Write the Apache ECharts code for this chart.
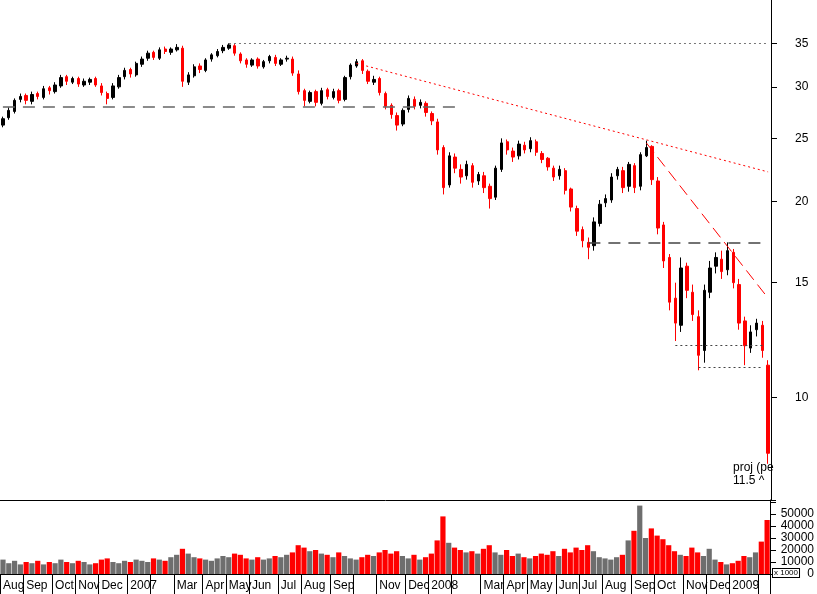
<!DOCTYPE html>
<html><head><meta charset="utf-8">
<script src="https://cdn.jsdelivr.net/npm/echarts@6/dist/echarts.min.js"></script>
<style>html,body{margin:0;padding:0;background:#fff}#c{width:817px;height:594px}</style>
</head><body><div id="c"></div>
<script>
const startDate = '2006-08-04';
const closes = [26.8,27.6,28.6,29.0,28.6,29.2,29.0,29.8,29.6,30.2,31.0,30.6,30.9,30.3,30.6,30.8,30.2,29.4,28.8,30.1,31.0,31.8,31.4,32.6,33.1,33.8,33.3,34.2,34.0,34.3,34.5,30.6,31.3,32.2,31.9,33.0,33.6,34.0,34.5,34.8,33.8,32.9,32.5,33.0,32.3,32.8,33.4,32.6,33.0,33.2,31.5,29.5,28.6,29.4,28.4,29.6,29.0,29.5,28.6,31.0,32.4,32.8,31.8,30.6,30.8,29.4,28.0,27.2,26.2,27.6,28.8,28.0,28.4,27.4,26.6,24.0,21.0,23.5,22.5,21.8,22.8,21.4,22.0,21.0,20.2,22.5,24.6,24.0,23.4,24.5,24.0,24.8,23.8,23.2,22.6,21.8,22.4,20.8,19.6,18.0,17.4,17.0,18.6,19.8,20.2,21.8,22.4,21.0,22.8,21.0,23.6,24.2,21.6,18.2,16.2,14.0,13.0,15.8,14.6,13.4,11.6,14.6,15.8,16.4,15.6,16.8,15.0,13.0,12.0,12.6,13.0,11.8,8.2];
const opens = [26.2,26.9,27.5,28.7,29.1,28.5,29.3,28.9,29.9,29.5,30.1,31.1,30.5,30.9,30.2,30.5,30.9,30.1,29.3,28.9,30.0,31.1,31.9,31.3,32.5,33.2,33.9,33.2,34.3,33.9,34.2,34.4,30.5,31.2,32.3,31.8,33.1,33.5,34.1,34.4,34.7,33.7,33.0,32.4,33.1,32.2,32.9,33.3,32.5,33.1,33.1,31.4,29.6,28.5,29.5,28.3,29.7,28.9,29.6,28.7,31.1,32.3,32.9,31.7,30.5,30.9,29.3,28.1,27.1,26.3,27.7,28.7,28.1,28.3,27.3,26.5,24.2,21.2,23.4,22.4,21.9,22.7,21.5,21.9,21.1,20.3,22.4,24.7,23.9,23.5,24.4,24.1,24.7,23.7,23.3,22.5,21.9,22.3,20.9,19.5,18.1,17.3,17.1,18.5,19.9,20.1,21.9,22.3,21.1,22.7,21.1,23.5,24.3,21.5,18.4,16.4,14.2,12.9,15.9,14.5,13.3,11.8,14.5,15.9,16.3,15.7,16.7,14.9,13.1,11.9,12.7,12.9,11.2];
const lows = [26.0,26.7,27.3,28.4,28.2,28.2,28.7,28.7,29.2,29.3,29.9,30.2,30.3,30.0,30.0,30.2,30.0,29.1,28.2,28.7,29.8,30.8,31.0,31.1,32.2,32.9,33.0,33.0,33.7,33.6,34.0,30.0,30.2,31.0,31.5,31.6,32.8,33.3,33.8,34.2,33.5,32.6,32.1,32.2,32.0,32.0,32.6,32.3,32.3,32.8,31.2,29.2,28.0,28.3,28.0,28.1,28.7,28.7,28.3,28.5,30.8,32.1,31.4,30.3,30.2,29.1,27.7,26.8,25.7,26.1,27.4,27.7,27.8,27.0,26.2,23.6,20.5,21.0,22.1,21.3,21.6,21.0,21.2,20.6,19.5,20.1,22.2,23.6,23.0,23.2,23.7,23.8,23.5,22.9,22.3,21.5,21.6,20.5,19.3,17.7,17.0,16.3,16.8,18.3,19.6,19.9,21.6,20.6,20.7,20.6,20.8,23.4,21.2,17.8,15.8,13.6,12.2,12.6,14.2,13.1,11.0,11.3,14.2,15.5,15.2,15.4,14.7,12.7,11.2,11.7,12.4,11.5,7.9];
const highs = [27.0,27.9,28.8,29.3,29.3,29.5,29.5,30.1,30.1,30.5,31.3,31.3,31.1,31.1,30.9,31.0,31.1,30.4,29.5,30.4,31.3,32.1,32.1,32.8,33.4,34.1,34.1,34.5,34.6,34.5,34.9,34.7,31.6,32.5,32.6,33.2,33.8,34.3,34.8,35.0,34.9,33.9,33.2,33.2,33.3,33.0,33.6,33.6,33.2,33.5,33.4,31.8,29.8,29.6,29.7,29.9,29.9,29.8,29.8,31.2,32.6,33.1,33.1,31.9,31.2,31.1,29.5,28.3,27.4,27.8,29.1,29.0,28.7,28.5,27.5,26.8,24.4,23.8,23.7,22.8,23.1,22.9,22.2,22.2,21.3,22.7,25.0,24.9,24.2,24.8,24.7,25.1,24.9,23.9,23.4,22.7,22.7,22.5,21.0,19.7,18.3,17.6,18.9,20.1,20.5,22.1,22.6,22.6,23.0,22.9,23.8,24.8,24.4,21.8,18.6,16.6,15.0,16.4,16.1,14.9,13.6,14.9,16.2,16.7,16.8,17.3,16.9,15.2,13.3,12.9,13.2,13.1,11.4];
const volumes = [12000,9000,11000,8000,10000,9000,11000,8000,10000,9000,12000,10000,9000,11000,10000,8000,9000,12000,13000,10000,9000,11000,10000,12000,11000,10000,13000,12000,11000,14000,16000,21000,17000,14000,13000,12000,11000,13000,15000,14000,17000,16000,13000,12000,14000,12000,13000,15000,14000,16000,18000,24000,22000,19000,20000,17000,16000,14000,18000,15000,13000,12000,14000,16000,15000,18000,20000,17000,19000,15000,13000,16000,12000,14000,17000,28000,48000,26000,22000,20000,18000,19000,17000,21000,24000,18000,16000,20000,15000,17000,14000,13000,15000,17000,16000,19000,15000,21000,18000,22000,20000,24000,19000,14000,13000,12000,14000,16000,28000,36000,57000,30000,38000,32000,29000,24000,19000,16000,15000,22000,18000,15000,21000,12000,10000,8000,9000,11000,15000,14000,18000,27000,45000];
const priceTicks = [10,15,20,25,30,35];
const volTicks = [0,10000,20000,30000,40000,50000];
const monthNames = ['Jan','Feb','Mar','Apr','May','Jun','Jul','Aug','Sep','Oct','Nov','Dec'];

const dates = [];
{ const d0 = new Date(startDate+'T00:00:00Z');
  for (let i=0;i<closes.length;i++){ const d=new Date(d0.getTime()+i*7*86400000); dates.push(d.toISOString().slice(0,10)); } }
const labelAt = {};
for (let i=0;i<dates.length;i++){
  const m = +dates[i].slice(5,7), y = dates[i].slice(0,4);
  const pm = i>0 ? +dates[i-1].slice(5,7) : -1;
  if (m!==pm){
    let t = m===1 ? y : monthNames[m-1];
    if (m===2 || (m===10 && y==='2007')) t = null;
    labelAt[i] = t;
  }
}
const candle = closes.map((c,i)=>[opens[i],c,lows[i],highs[i]]);
const volData = volumes.map((v,i)=>({value:v,itemStyle:{color: closes[i]>=opens[i] ? '#6e6e6e' : '#ff0000'}}));
const font = 'Liberation Sans';
const chart = echarts.init(document.getElementById('c'));
chart.setOption({
  animation:false,
  backgroundColor:'#fff',
  grid:[{left:0,right:46,top:0,height:500},{left:0,right:46,top:500,height:74}],
  xAxis:[
    {type:'category',data:dates,gridIndex:0,boundaryGap:true,axisLine:{show:true,lineStyle:{color:'#000'}},axisTick:{show:false},axisLabel:{show:false},splitLine:{show:false}},
    {type:'category',data:dates,gridIndex:1,boundaryGap:true,axisLine:{show:true,lineStyle:{color:'#000'}},
     axisTick:{show:true,length:20,lineStyle:{color:'#000'},interval:(i)=>labelAt[i]!==undefined},
     axisLabel:{show:true,interval:(i)=>!!labelAt[i],formatter:(v,i)=>labelAt[i]||'',align:'left',margin:6,color:'#000',fontFamily:font,fontSize:12}}
  ],
  yAxis:[
    {type:'log',gridIndex:0,position:'right',min:6.95,max:40.8,axisLine:{show:true,lineStyle:{color:'#000'}},
     axisTick:{show:true,length:6,customValues:priceTicks,lineStyle:{color:'#000'}},
     axisLabel:{show:true,customValues:priceTicks,margin:24,color:'#000',fontFamily:font,fontSize:12},splitLine:{show:false}},
    {type:'value',gridIndex:1,position:'right',min:0,max:61667,interval:10000,axisLine:{show:true,lineStyle:{color:'#000'}},
     axisTick:{show:true,length:6,lineStyle:{color:'#000'}},
     axisLabel:{show:true,formatter:(v)=>v<=50000?String(v):'',margin:44,align:'right',color:'#000',fontFamily:font,fontSize:12},splitLine:{show:false}}
  ],
  series:[
    {type:'candlestick',xAxisIndex:0,yAxisIndex:0,data:candle,barMaxWidth:3,
     itemStyle:{color:'#000',color0:'#ff0000',borderColor:'#000',borderColor0:'#ff0000',borderWidth:1},
     markLine:{symbol:'none',silent:true,label:{show:false},data:[
       [{coord:[dates[39],35],lineStyle:{color:'#777',type:[2,3],width:1}},{coord:[dates[132],35]}],
       [{coord:[dates[0],28],lineStyle:{color:'#666',type:[12,8],width:1.5}},{coord:[dates[79],28]}],
       [{coord:[dates[61],32.6],lineStyle:{color:'#ff0000',type:[2,3],width:1}},{coord:[dates[132],22.2]}],
       [{coord:[dates[111],24.6],lineStyle:{color:'#ff0000',type:[12,6],width:1}},{coord:[dates[132],14.2]}],
       [{coord:[dates[101],17.3],lineStyle:{color:'#444',type:[12,8],width:1.5}},{coord:[dates[132],17.3]}],
       [{coord:[dates[116],12.0],lineStyle:{color:'#444',type:[2,3],width:1}},{coord:[dates[131],12.0]}],
       [{coord:[dates[120],11.1],lineStyle:{color:'#444',type:[2,3],width:1}},{coord:[dates[131],11.1]}]
     ]}},
    {type:'bar',xAxisIndex:1,yAxisIndex:1,data:volData,barWidth:'90%'}
  ],
  graphic:[
    {type:'text',left:733,top:462,z:100,style:{text:'proj (pe',fill:'#000',font:'12px '+font}},
    {type:'text',left:733,top:475,z:100,style:{text:'11.5 ^',fill:'#000',font:'12px '+font}},
    {type:'text',left:772,top:568,z:100,style:{text:'x 1000',fill:'#000',font:'8px '+font,backgroundColor:'#fff',borderColor:'#000',borderWidth:1,padding:[0,1]}}
  ]
});
</script></body></html>
